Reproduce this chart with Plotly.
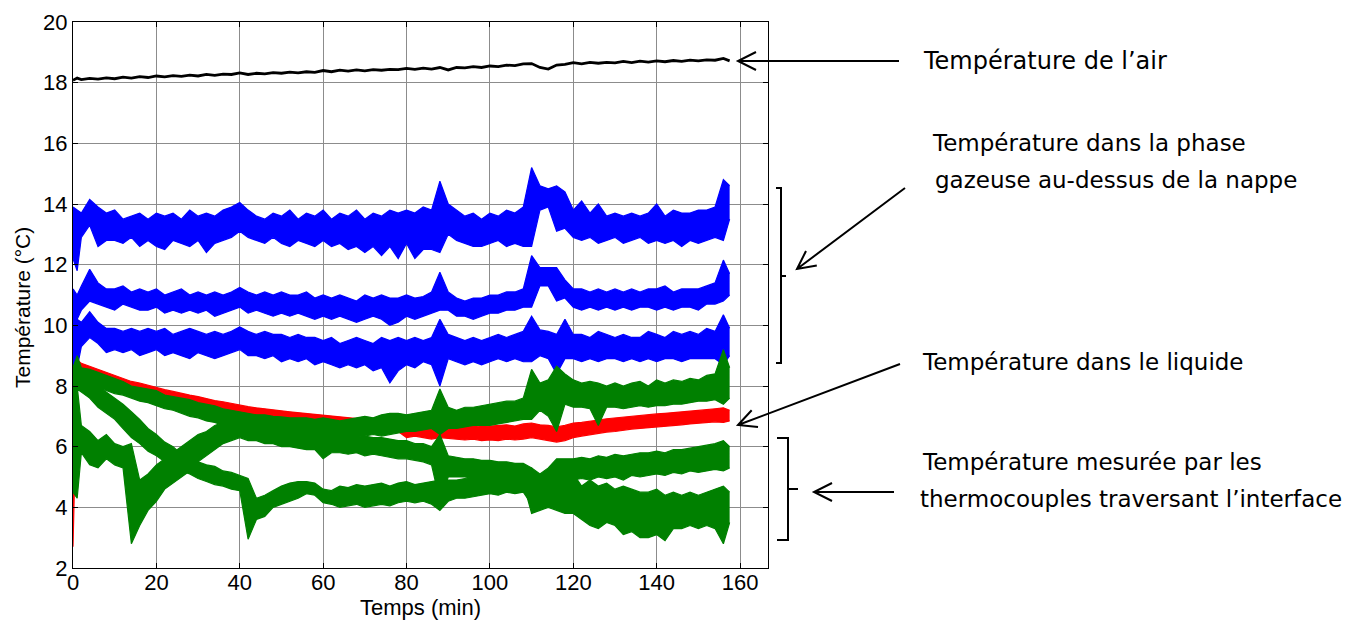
import plotly.graph_objects as go

# ---------------- data ----------------
T = [0, 1] + list(range(2, 157, 2)) + [157.5]   # time (min)

air = [18.08, 18.15, 18.10, 18.14, 18.12, 18.16, 18.13, 18.18, 18.15, 18.20,
       18.17, 18.22, 18.19, 18.23, 18.21, 18.25, 18.22, 18.27, 18.24, 18.28,
       18.27, 18.32, 18.27, 18.31, 18.29, 18.33, 18.31, 18.35, 18.32, 18.36,
       18.34, 18.40, 18.36, 18.41, 18.38, 18.42, 18.39, 18.43, 18.41, 18.44,
       18.43, 18.47, 18.44, 18.48, 18.45, 18.50, 18.42, 18.50, 18.49, 18.53,
       18.50, 18.55, 18.53, 18.58, 18.56, 18.62, 18.63, 18.50, 18.45, 18.58,
       18.60, 18.66, 18.62, 18.67, 18.64, 18.67, 18.65, 18.70, 18.66, 18.71,
       18.68, 18.72, 18.69, 18.73, 18.70, 18.74, 18.72, 18.75, 18.74, 18.80,
       18.72]

gas1_hi = [13.9, 13.8, 13.7, 14.15, 13.9, 13.7, 13.8, 13.5, 13.6, 13.7,
           13.5, 13.7, 13.6, 13.7, 13.5, 13.8, 13.6, 13.7, 13.6, 13.8,
           13.9, 14.05, 13.8, 13.6, 13.5, 13.7, 13.6, 13.8, 13.5, 13.7,
           13.6, 13.8, 13.5, 13.7, 13.6, 13.8, 13.5, 13.7, 13.6, 13.8,
           13.7, 13.8, 13.7, 13.9, 13.8, 14.75, 14.0, 13.8, 13.6, 13.7,
           13.5, 13.7, 13.6, 13.8, 13.7, 13.9, 15.2, 14.6, 14.5, 14.6,
           14.4, 13.8, 14.1, 13.7, 14.0, 13.6, 13.7, 13.6, 13.7, 13.6,
           13.7, 14.0, 13.6, 13.8, 13.7, 13.7, 13.8, 13.8, 13.9, 14.8,
           14.6]
gas1_lo = [12.2, 11.8, 12.9, 13.3, 12.6, 12.8, 12.8, 12.7, 12.9, 12.6,
           12.8, 12.6, 12.5, 12.8, 12.7, 12.6, 12.8, 12.4, 12.7, 12.8,
           12.9, 13.1, 12.9, 12.8, 12.7, 12.9, 12.7, 12.6, 12.8, 12.7,
           12.6, 12.8, 12.6, 12.7, 12.5, 12.6, 12.4, 12.6, 12.3, 12.6,
           12.2, 12.7, 12.2, 12.5, 12.5, 12.4, 13.0, 12.8, 12.7, 12.6,
           12.6, 12.7, 12.8, 12.6, 12.7, 12.6, 12.6, 13.8, 13.9, 13.1,
           13.2, 12.9, 12.8, 12.9, 12.7, 12.8, 12.9, 12.7, 12.8, 12.9,
           12.7, 12.8, 12.7, 12.8, 12.6, 12.8, 12.7, 12.8, 12.9, 12.8,
           13.5]

gas2_hi = [11.2, 11.0, 11.3, 11.85, 11.4, 11.2, 11.2, 11.3, 11.1, 11.2,
           11.1, 11.2, 11.0, 11.1, 11.2, 11.0, 11.1, 11.0, 11.1, 11.0,
           11.1, 11.25, 11.1, 11.0, 11.1, 11.0, 11.1, 11.0, 11.0, 11.1,
           10.9, 11.0, 10.9, 11.0, 10.9, 10.8, 11.0, 10.9, 11.0, 10.9,
           10.9, 11.0, 10.9, 10.95, 11.1, 11.75, 11.1, 10.9, 10.8, 10.9,
           10.9, 11.0, 11.0, 11.1, 11.1, 11.2, 12.3, 11.9, 11.9, 11.9,
           11.5, 11.2, 11.2, 11.1, 11.2, 11.1, 11.2, 11.1, 11.2, 11.1,
           11.2, 11.2, 11.3, 11.1, 11.2, 11.2, 11.2, 11.3, 11.4, 12.15,
           11.7]
gas2_lo = [10.0, 10.2, 10.5, 10.8, 10.7, 10.6, 10.5, 10.7, 10.6, 10.5,
           10.5, 10.6, 10.4, 10.5, 10.4, 10.5, 10.4, 10.5, 10.3, 10.4,
           10.5, 10.6, 10.4, 10.5, 10.4, 10.3, 10.4, 10.3, 10.4, 10.3,
           10.2, 10.3, 10.2, 10.3, 10.2, 10.1, 10.2, 10.3, 10.2, 10.0,
           10.1, 10.3, 10.2, 10.3, 10.4, 10.5, 10.5, 10.3, 10.3, 10.2,
           10.3, 10.4, 10.4, 10.5, 10.5, 10.6, 10.6, 11.3, 11.3, 10.8,
           10.9, 10.6, 10.5, 10.6, 10.5, 10.6, 10.5, 10.6, 10.5, 10.6,
           10.6, 10.5, 10.6, 10.5, 10.6, 10.6, 10.5, 10.7, 10.7, 10.8,
           11.0]

gas3_hi = [10.0, 10.2, 10.1, 10.45, 10.1, 9.9, 9.9, 9.8, 9.9, 9.8,
           9.9, 9.8, 9.9, 9.7, 9.8, 9.9, 9.8, 9.7, 9.8, 9.7,
           9.8, 9.95, 9.8, 9.7, 9.8, 9.7, 9.7, 9.6, 9.7, 9.6,
           9.6, 9.5, 9.6, 9.4, 9.5, 9.6, 9.5, 9.4, 9.6, 9.5,
           9.6, 9.5, 9.6, 9.5, 9.6, 10.2, 9.7, 9.6, 9.5, 9.6,
           9.5, 9.6, 9.7, 9.6, 9.7, 9.8, 10.3, 9.85, 9.8, 9.7,
           10.2, 9.7, 9.7, 9.6, 9.8, 9.7, 9.6, 9.7, 9.6, 9.6,
           9.8, 9.7, 9.6, 9.8, 9.7, 9.8, 9.7, 9.9, 9.8, 10.35,
           9.9]
gas3_lo = [8.2, 8.6, 9.3, 9.6, 9.4, 9.1, 9.2, 9.1, 9.2, 9.0,
           9.1, 9.2, 9.0, 9.1, 9.0, 8.9, 9.1, 9.0, 8.9, 9.0,
           9.1, 9.2, 9.0, 9.0, 8.9, 9.0, 8.8, 8.9, 8.8, 8.9,
           8.7, 8.8, 8.7, 8.6, 8.7, 8.6, 8.7, 8.5, 8.6, 8.1,
           8.5, 8.7, 8.6, 8.8, 8.7, 8.0, 8.9, 8.8, 8.7, 8.8,
           8.7, 8.8, 8.9, 8.8, 8.9, 8.8, 8.8, 9.0, 8.9, 8.4,
           8.9, 8.9, 8.8, 8.9, 8.8, 8.9, 8.9, 8.8, 8.9, 8.8,
           8.9, 8.8, 8.9, 8.9, 8.8, 8.9, 8.9, 8.9, 8.9, 8.7,
           9.0]

liq_hi = [5.0, 8.85, 8.75, 8.65, 8.55, 8.45, 8.35, 8.25, 8.15, 8.1,
          8.02, 7.95, 7.88, 7.82, 7.75, 7.7, 7.65, 7.58, 7.52, 7.48,
          7.42, 7.38, 7.32, 7.28, 7.24, 7.2, 7.18, 7.15, 7.12, 7.1,
          7.08, 7.05, 7.0, 6.98, 6.95, 6.92, 6.9, 6.88, 6.85, 6.82,
          6.8, 6.75, 6.7, 6.72, 6.68, 6.7, 6.72, 6.68, 6.65, 6.7,
          6.66, 6.68, 6.7, 6.72, 6.68, 6.75, 6.78, 6.72, 6.7, 6.65,
          6.7, 6.78, 6.8, 6.85, 6.88, 6.92, 6.95, 6.98, 7.0, 7.02,
          7.05, 7.08, 7.1, 7.12, 7.15, 7.18, 7.2, 7.22, 7.25, 7.28,
          7.2]
liq_lo = [2.7, 8.45, 8.4, 8.3, 8.2, 8.1, 8.0, 7.9, 7.85, 7.8,
          7.72, 7.65, 7.6, 7.55, 7.48, 7.42, 7.38, 7.32, 7.28, 7.22,
          7.15, 7.1, 7.05, 7.02, 6.98, 6.95, 6.92, 6.9, 6.88, 6.85,
          6.82, 6.8, 6.75, 6.72, 6.7, 6.68, 6.65, 6.62, 6.6, 6.55,
          6.5, 6.3, 6.35, 6.3, 6.25, 6.3, 6.28, 6.25, 6.22, 6.25,
          6.2, 6.22, 6.2, 6.25, 6.22, 6.25, 6.3, 6.25, 6.2, 6.15,
          6.2, 6.3, 6.35, 6.4, 6.45, 6.48, 6.5, 6.55, 6.58, 6.6,
          6.62, 6.65, 6.68, 6.7, 6.72, 6.75, 6.78, 6.8, 6.82, 6.8,
          6.85]

tc1_hi = [8.6, 9.0, 8.6, 8.55, 8.45, 8.35, 8.25, 8.15, 8.0, 7.95,
          7.9, 7.85, 7.7, 7.65, 7.6, 7.55, 7.45, 7.4, 7.35, 7.25,
          7.2, 7.15, 7.1, 7.05, 7.05, 7.0, 6.98, 6.95, 6.95, 6.95,
          6.9, 6.95, 6.9, 6.85, 6.9, 6.95, 7.0, 6.95, 7.05, 7.1,
          7.1, 7.05, 7.1, 7.15, 7.2, 7.9, 7.3, 7.2, 7.3, 7.3,
          7.35, 7.4, 7.45, 7.5, 7.5, 7.6, 8.55, 8.1, 8.2, 8.65,
          8.4, 8.2, 8.1, 8.15, 8.1, 8.0, 8.1, 8.0, 8.1, 8.15,
          8.0, 8.2, 8.1, 8.2, 8.15, 8.25, 8.2, 8.35, 8.4, 9.2,
          8.6]
tc1_lo = [6.0, 8.0, 8.1, 8.0, 7.95, 7.85, 7.75, 7.7, 7.6, 7.5,
          7.45, 7.35, 7.25, 7.2, 7.1, 7.0, 6.95, 6.85, 6.8, 6.7,
          6.65, 6.6, 6.55, 6.5, 6.45, 6.45, 6.4, 6.4, 6.35, 6.35,
          6.3, 6.35, 6.3, 6.3, 6.25, 6.3, 6.35, 6.4, 6.35, 6.4,
          6.45, 6.5, 6.5, 6.55, 6.6, 6.4, 6.6, 6.6, 6.65, 6.7,
          6.7, 6.7, 6.75, 6.8, 6.85, 6.9, 6.9, 7.2, 7.0, 6.5,
          7.4, 7.3, 7.3, 7.25, 6.7, 7.3, 7.3, 7.25, 7.3, 7.35,
          7.3, 7.35, 7.35, 7.4, 7.4, 7.45, 7.5, 7.5, 7.55, 7.4,
          7.6]

tc2_hi = [8.5, 8.0, 6.7, 6.5, 6.2, 6.4, 6.1, 6.0, 6.1, 4.9,
          5.1, 5.4, 5.6, 5.8, 6.0, 6.2, 6.4, 6.5, 6.7, 6.8,
          6.9, 7.0, 6.9, 6.8, 6.8, 6.75, 6.8, 6.7, 6.7, 6.65,
          6.6, 6.5, 6.4, 6.35, 6.4, 6.3, 6.35, 6.3, 6.3, 6.25,
          6.2, 6.2, 6.1, 6.1, 6.0, 6.4, 5.7, 5.65, 5.6, 5.6,
          5.55, 5.55, 5.5, 5.5, 5.45, 5.45, 5.3, 4.8, 4.9, 5.0,
          4.9, 5.1, 4.7, 4.9, 4.7, 4.8, 4.6, 4.7, 4.6, 4.5,
          4.5, 4.6, 4.4, 4.5, 4.4, 4.5, 4.4, 4.5, 4.6, 4.7,
          4.5]
tc2_lo = [4.5, 4.3, 5.8, 5.4, 5.3, 5.6, 5.4, 5.3, 2.8, 3.4,
          3.9, 4.2, 4.6, 4.8, 5.0, 5.2, 5.5, 5.7, 5.9, 6.1,
          6.2, 6.3, 6.2, 6.2, 6.1, 6.1, 6.0, 6.0, 5.95, 5.9,
          5.9, 5.6, 5.8, 5.8, 5.75, 5.8, 5.7, 5.75, 5.7, 5.65,
          5.6, 5.6, 5.55, 5.5, 5.4, 4.2, 5.0, 5.0, 5.0, 4.95,
          4.95, 4.9, 4.9, 4.85, 4.8, 4.8, 3.8, 3.9, 4.0, 3.9,
          3.8, 3.8, 3.6, 3.4, 3.3, 3.5, 3.4, 3.1, 3.2, 3.0,
          3.0, 3.1, 2.9, 3.3, 3.3, 3.4, 3.3, 3.4, 3.3, 2.8,
          3.5]

tc3_hi = [8.6, 8.9, 8.4, 8.2, 8.0, 7.8, 7.6, 7.4, 7.15, 6.9,
          6.6, 6.4, 6.15, 6.0, 5.75, 5.65, 5.5, 5.4, 5.35, 5.2,
          5.15, 5.05, 4.95, 4.3, 4.4, 4.55, 4.7, 4.8, 4.85, 4.85,
          4.8, 4.6, 4.55, 4.7, 4.65, 4.75, 4.7, 4.75, 4.8, 4.7,
          4.8, 4.85, 4.75, 4.8, 4.85, 4.9, 4.9, 4.9, 4.95, 5.0,
          5.0, 5.1, 5.05, 5.15, 5.1, 5.2, 5.3, 5.1, 5.3, 5.6,
          5.6, 5.6, 5.65, 5.6, 5.7, 5.65, 5.75, 5.7, 5.75, 5.8,
          5.8, 5.85, 5.8, 5.9, 5.9, 5.95, 6.0, 6.05, 6.1, 6.2,
          6.0]
tc3_lo = [5.0, 7.9, 7.8, 7.6, 7.3, 7.1, 6.9, 6.6, 6.3, 6.1,
          5.85, 5.7, 5.5, 5.4, 5.2, 5.1, 4.95, 4.85, 4.75, 4.7,
          4.6, 4.55, 2.95, 3.6, 3.7, 4.0, 4.1, 4.2, 4.3, 4.45,
          4.4, 4.15, 4.1, 4.0, 4.05, 4.1, 4.0, 4.05, 4.1, 4.05,
          4.15, 4.2, 4.15, 4.2, 4.1, 3.9, 4.2, 4.3, 4.3, 4.35,
          4.4, 4.45, 4.4, 4.5, 4.45, 4.5, 4.1, 4.3, 4.5, 4.7,
          4.8, 4.9, 4.95, 4.9, 5.0, 4.95, 5.0, 4.9, 5.05, 5.0,
          5.05, 5.1, 5.05, 5.15, 5.1, 5.2, 5.15, 5.2, 5.25, 5.2,
          5.3]

x_ticks = [0, 20, 40, 60, 80, 100, 120, 140, 160]
y_ticks = [2, 4, 6, 8, 10, 12, 14, 16, 18, 20]

labels = {
    "air": "Température de l’air",
    "gas1": "Température dans la phase",
    "gas2": "gazeuse au-dessus de la nappe",
    "liq": "Température dans le liquide",
    "tc1": "Température mesurée par les",
    "tc2": "thermocouples traversant l’interface",
}

BLUE, BLACK, RED, GREEN = "#0000ff", "#000000", "#ff0000", "#008000"

# ---------------- figure ----------------
fig = go.Figure()


def band(hi, lo, color):
    fig.add_trace(go.Scatter(x=T, y=hi, mode="lines", line=dict(color=color, width=1.2),
                             hoverinfo="skip", showlegend=False))
    fig.add_trace(go.Scatter(x=T, y=lo, mode="lines", line=dict(color=color, width=1.2),
                             fill="tonexty", fillcolor=color,
                             hoverinfo="skip", showlegend=False))


band(gas1_hi, gas1_lo, BLUE)
band(gas2_hi, gas2_lo, BLUE)
band(gas3_hi, gas3_lo, BLUE)
fig.add_trace(go.Scatter(x=T, y=air, mode="lines", line=dict(color=BLACK, width=2.8),
                         hoverinfo="skip", showlegend=False))
band(liq_hi, liq_lo, RED)
band(tc1_hi, tc1_lo, GREEN)
band(tc2_hi, tc2_lo, GREEN)
band(tc3_hi, tc3_lo, GREEN)

# plot-area geometry in page pixels (the page body adds an 8 px offset)
OFF = 8
L, R, TOP, BOT = 73, 768, 22, 568
W, H = 1353, 625


def px(xp):
    return (xp - L) / (R - L)


def py(yp):
    return (BOT - yp) / (BOT - TOP)


def path(points_list):
    s = ""
    for pts in points_list:
        s += "M " + " L ".join(f"{px(a):.5f},{py(b):.5f}" for a, b in pts) + " "
    return s.strip()


def arrow(tail, tip, length=18, half=9):
    dx, dy = tip[0] - tail[0], tip[1] - tail[1]
    n = (dx * dx + dy * dy) ** 0.5
    ux, uy = dx / n, dy / n
    bx, by = tip[0] - ux * length, tip[1] - uy * length
    a1 = (bx - uy * half, by + ux * half)
    a2 = (bx + uy * half, by - ux * half)
    return path([[tail, tip], [a1, tip, a2]])


shapes = []
for tail, tip in [((899, 61), (738, 61)), ((905, 188), (797, 269)),
                  ((900, 364), (738, 425)), ((894, 492), (814, 492))]:
    shapes.append(dict(type="path", xref="paper", yref="paper", path=arrow(tail, tip),
                       line=dict(color="black", width=2)))
# brackets
shapes.append(dict(type="path", xref="paper", yref="paper",
                   path=path([[(776, 188), (781, 188), (781, 363), (776, 363)],
                              [(781, 276), (786, 276)]]),
                   line=dict(color="black", width=2)))
shapes.append(dict(type="path", xref="paper", yref="paper",
                   path=path([[(777, 438), (788, 438), (788, 540), (777, 540)],
                              [(788, 489), (798, 489)]]),
                   line=dict(color="black", width=2)))

annotations = []
for key, xl, yc, fs in [("air", 921, 61, 24), ("gas1", 930, 143, 23),
                        ("gas2", 933, 180, 23), ("liq", 920, 362, 23),
                        ("tc1", 920, 462, 23), ("tc2", 918, 499, 23)]:
    annotations.append(dict(text=labels[key], x=px(xl), y=py(yc), xref="paper", yref="paper",
                            xanchor="left", yanchor="middle", showarrow=False,
                            font=dict(family="DejaVu Sans, sans-serif", size=fs, color="black")))

axis_font = dict(family="Liberation Sans, Arial, sans-serif", size=22, color="black")
title_font = dict(family="Liberation Sans, Arial, sans-serif", size=21, color="black")
annotations.append(dict(text="Température (°C)", textangle=-90, x=px(22), y=py(308),
                        xref="paper", yref="paper", xanchor="center", yanchor="middle",
                        showarrow=False, font=title_font))
annotations.append(dict(text="Temps (min)", x=px(421), y=py(607),
                        xref="paper", yref="paper", xanchor="center", yanchor="middle",
                        showarrow=False,
                        font=dict(family="Liberation Sans, Arial, sans-serif", size=22,
                                  color="black")))

fig.update_layout(
    width=W, height=H, autosize=False,
    margin=dict(l=L - OFF, r=W - (R - OFF), t=TOP - OFF, b=H - (BOT - OFF), pad=0,
                autoexpand=False),
    paper_bgcolor="white", plot_bgcolor="white",
    shapes=shapes, annotations=annotations,
    xaxis=dict(range=[0, 166.7], tickvals=x_ticks, ticks="inside", ticklen=5,
               tickcolor="black", showline=True, linecolor="black", linewidth=1,
               mirror="ticks", showgrid=True, gridcolor="#8c8c8c", gridwidth=1,
               zeroline=False, tickfont=axis_font, automargin=False,
               ticklabelstandoff=-5),
    yaxis=dict(range=[2, 20], tickvals=y_ticks, ticks="inside", ticklen=5,
               tickcolor="black", showline=True, linecolor="black", linewidth=1,
               mirror="ticks", showgrid=True, gridcolor="#8c8c8c", gridwidth=1,
               zeroline=False, tickfont=axis_font, automargin=False),
)

fig.write_html("out.html")
